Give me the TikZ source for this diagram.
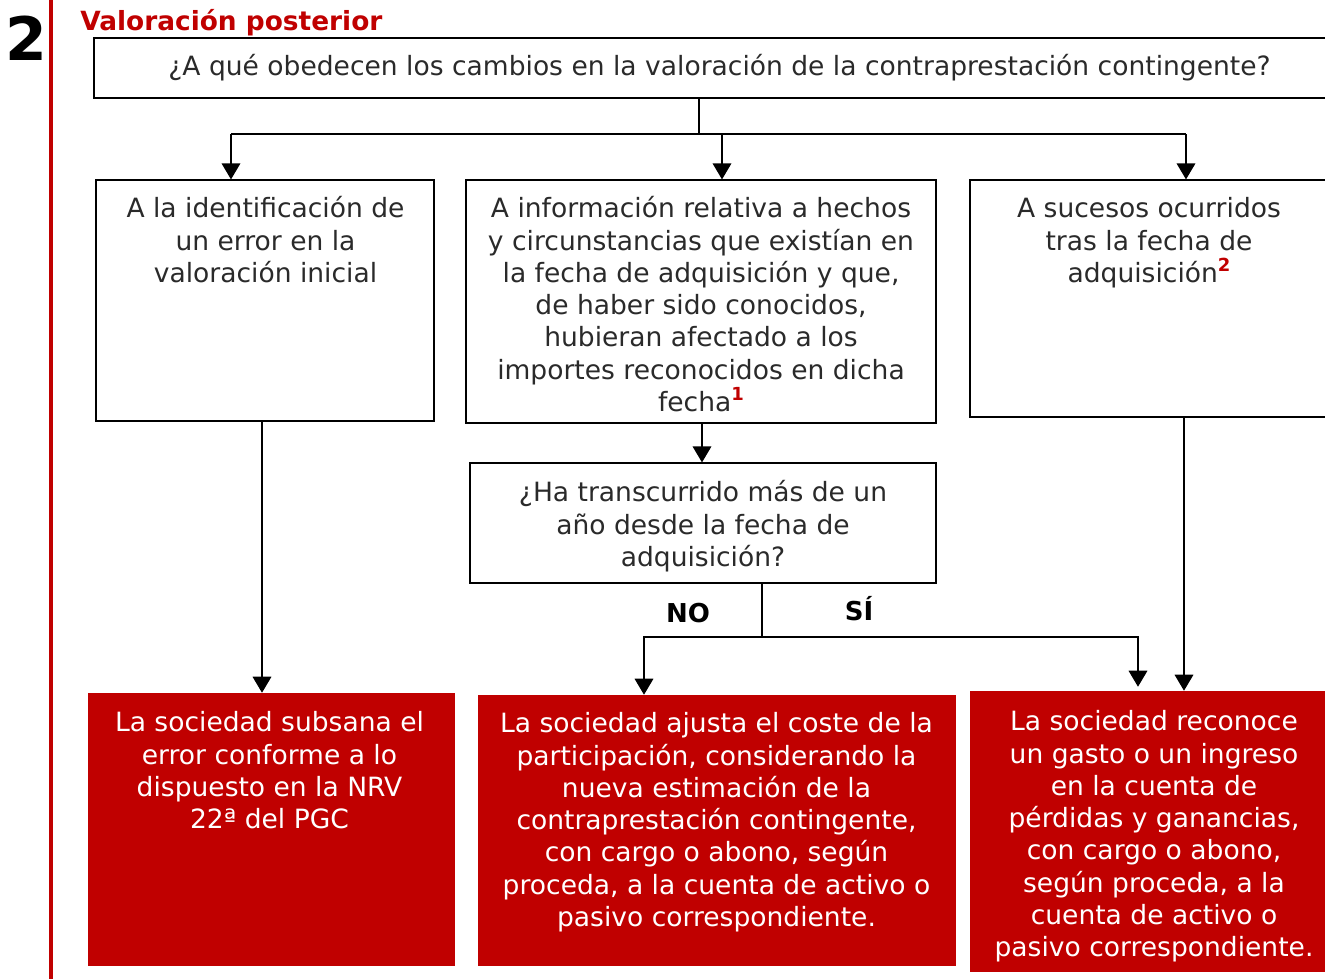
\documentclass[tikz,border=0pt]{standalone}
\usepackage{fontspec}
\setmainfont{DejaVu Sans}
\usetikzlibrary{arrows.meta,fit}
\definecolor{myred}{HTML}{C00000}
\definecolor{txtgray}{HTML}{2A2A2A}
\newcommand{\fnum}[1]{\raisebox{8pt}{\fontsize{13.5}{13.5}\selectfont\bfseries\color{myred}#1}}
\begin{document}
\begin{tikzpicture}[x=0.75pt,y=-0.75pt,
  box/.style={draw=black, line width=0.9pt, inner sep=0pt},
  redbox/.style={fill=myred, draw=none, inner sep=0pt},
  txt/.style={font=\fontsize{19.9}{24.2}\selectfont, text=txtgray, align=center, anchor=north, inner sep=0pt},
  wtxt/.style={txt, text=white},
  lbl/.style={font=\fontsize{19.5}{22}\selectfont\bfseries, text=black, inner sep=0pt},
  conn/.style={line width=0.9pt, draw=black},
  arr/.style={conn, -{Triangle[width=14pt,length=12pt]}}]
\useasboundingbox (0,0) rectangle (1325,979);

% side decoration
\draw[myred, line width=2.3pt] (51,0) -- (51,979);
\node[font=\fontsize{45}{45}\selectfont\bfseries, inner sep=0pt] (num) at (26,38) {2};
\node[font=\fontsize{19.8}{22}\selectfont\bfseries, text=myred, anchor=base west, inner sep=0pt] (title) at (80,30) {Valoración posterior};

% boxes
\node[box, fit={(94,38) (1335,98)}] (T) {};
\node[box, fit={(96,180) (434,421)}] (A) {};
\node[box, fit={(466,180) (936,423)}] (B) {};
\node[box, fit={(970,180) (1335,417)}] (C) {};
\node[box, fit={(470,463) (936,583)}] (Q) {};
\node[redbox, fit={(88,693) (455,966)}] (D) {};
\node[redbox, fit={(478,695) (956,966)}] (E) {};
\node[redbox, fit={(970,691) (1335,972)}] (F) {};

% texts
\node[txt, anchor=base] (tT) at (719.5,75) {¿A qué obedecen los cambios en la valoración de la contraprestación contingente?};
\node[txt] (tA) at (265.5,195) {\strut A la identificación de\\un error en la\\valoración inicial};
\node[txt] (tB) at (701,195) {\strut A información relativa a hechos\\y circunstancias que existían en\\la fecha de adquisición y que,\\de haber sido conocidos,\\hubieran afectado a los\\importes reconocidos en dicha\\fecha\fnum{1}};
\node[txt] (tC) at (1149,195) {\strut A sucesos ocurridos\\tras la fecha de\\adquisición\fnum{2}};
\node[txt] (tQ) at (703,479) {\strut ¿Ha transcurrido más de un\\año desde la fecha de\\adquisición?};
\node[wtxt] (tD) at (269.5,709) {\strut La sociedad subsana el\\error conforme a lo\\dispuesto en la NRV\\22ª del PGC};
\node[wtxt] (tE) at (716.5,710) {\strut La sociedad ajusta el coste de la\\participación, considerando la\\nueva estimación de la\\contraprestación contingente,\\con cargo o abono, según\\proceda, a la cuenta de activo o\\pasivo correspondiente.};
\node[wtxt] (tF) at (1154,708) {\strut La sociedad reconoce\\un gasto o un ingreso\\en la cuenta de\\pérdidas y ganancias,\\con cargo o abono,\\según proceda, a la\\cuenta de activo o\\pasivo correspondiente.};

% labels
\node[lbl] (no) at (688,613) {NO};
\node[lbl] (si) at (859,609) {SÍ};

% connector helpers
\coordinate (j) at (699,134);
\coordinate (xa) at (231,0);
\coordinate (xb) at (722,0);
\coordinate (xc) at (1186,0);
\coordinate (xd) at (262,0);
\coordinate (xq) at (702,0);
\coordinate (k) at (762,637);
\coordinate (xe) at (644,0);
\coordinate (xf) at (1138,0);
\coordinate (xg) at (1184,0);

\draw[conn] (T.south -| j) -- (j);
\draw[conn] (j) -- (j -| xa);
\draw[conn] (j) -- (j -| xc);
\draw[arr] (j -| xa) -- (A.north -| xa);
\draw[arr] (j -| xb) -- (B.north -| xb);
\draw[arr] (j -| xc) -- (C.north -| xc);

\draw[arr] (A.south -| xd) -- (D.north -| xd);
\draw[arr] (B.south -| xq) -- (Q.north -| xq);
\draw[conn] (Q.south -| k) -- (k);
\draw[arr] (k) -| (E.north -| xe);
\draw[arr] (k) -| ([yshift=3pt]F.north -| xf);
\draw[arr] (C.south -| xg) -- (F.north -| xg);
\end{tikzpicture}
\end{document}
